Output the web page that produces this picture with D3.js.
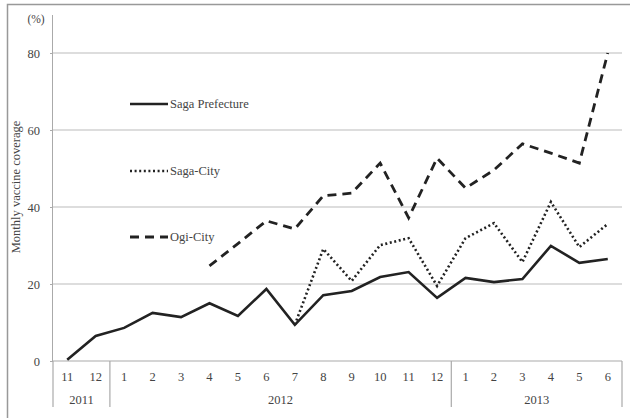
<!DOCTYPE html>
<html><head><meta charset="utf-8">
<script src="https://cdn.jsdelivr.net/npm/d3@7"></script>
<style>body{margin:0;background:#fff}svg{display:block}svg text{font-family:"Liberation Serif","DejaVu Serif",serif !important;fill:#444}</style>
</head><body>
<script>
const months = ["11","12","1","2","3","4","5","6","7","8","9","10","11","12","1","2","3","4","5","6"];
const years = [{label:"2011",from:0,to:1},{label:"2012",from:2,to:13},{label:"2013",from:14,to:19}];
const sagaPref = [0.3,6.5,8.6,12.5,11.4,15,11.7,18.7,9.4,17.1,18.2,21.8,23.1,16.4,21.6,20.5,21.3,29.9,25.5,26.5];
const sagaCity = [null,null,null,null,null,null,null,null,9.4,29.1,20.8,30.1,31.9,19.5,31.9,35.8,25.7,41.3,29.6,35.6];
const ogiCity = [null,null,null,null,null,24.7,30.5,36.4,34.3,42.9,43.6,51.4,37.2,52.7,44.9,49.6,56.4,54,51.4,80];
const yTicks = [0,20,40,60,80];
const seriesNames = ["Saga Prefecture","Saga-City","Ogi-City"];

(function(){
const W=630,H=418;
const svg=d3.select("body").append("svg").attr("width",W).attr("height",H).attr("font-family","Liberation Serif");
svg.append("rect").attr("x",7.5).attr("y",4.5).attr("width",630).attr("height",430).attr("fill","none").attr("stroke","#999").attr("stroke-width",1.5);

const pL=53,pR=622,pT=15,pB=361;
const x=d3.scaleBand().domain(d3.range(months.length)).range([pL,pR]);
const y=d3.scaleLinear().domain([0,90]).range([pB,pB-90*77/20]);

svg.append("g").selectAll("line").data(yTicks.filter(d=>d>0)).join("line")
 .attr("x1",pL).attr("x2",pR).attr("y1",d=>y(d)).attr("y2",d=>y(d))
 .attr("stroke","#bbb").attr("stroke-width",1.2);
const ya=svg.append("g").attr("transform",`translate(${pL},0)`).call(d3.axisLeft(y).tickValues(yTicks).tickSize(3).tickPadding(10));
ya.attr("font-family","Liberation Serif");
ya.select(".domain").attr("d",`M-0.5,${pT}V${pB}`).attr("stroke","#aaa");
ya.selectAll(".tick line").attr("stroke","#aaa");
ya.selectAll(".tick text").attr("font-size",12.5).attr("fill","#444");
svg.append("text").attr("x",36).attr("y",23).attr("text-anchor","middle").attr("font-size",11.5).text("(%)");
svg.append("text").attr("transform","translate(20,187) rotate(-90)").attr("text-anchor","middle").attr("font-size",12.5).text("Monthly vaccine coverage");

const tb=407;
svg.append("line").attr("x1",pL).attr("x2",pR).attr("y1",pB).attr("y2",pB).attr("stroke","#aaa").attr("stroke-width",1.2);
const seps=[pL, x(years[1].from), x(years[2].from), pR];
svg.append("g").selectAll("line").data(seps).join("line")
 .attr("x1",d=>d).attr("x2",d=>d).attr("y1",pB).attr("y2",tb).attr("stroke","#aaa").attr("stroke-width",1.2);
svg.append("g").selectAll("text").data(months).join("text")
 .attr("x",(d,i)=>x(i)+x.bandwidth()/2).attr("y",381).attr("text-anchor","middle").attr("font-size",12.5).text(d=>d);
svg.append("g").selectAll("text").data(years).join("text")
 .attr("x",d=>(x(d.from)+x(d.to)+x.bandwidth())/2).attr("y",404).attr("text-anchor","middle").attr("font-size",12.5).text(d=>d.label);

const line=d3.line().defined(d=>d!=null).x((d,i)=>x(i)+x.bandwidth()/2).y(d=>y(d));
const styles=[{dash:null,w:2.6},{dash:"2,2.6",w:2.6},{dash:"9,6",w:2.8}];
[sagaPref,sagaCity,ogiCity].forEach((s,k)=>{
  svg.append("path").attr("d",line(s)).attr("fill","none").attr("stroke","#222")
   .attr("stroke-width",styles[k].w).attr("stroke-dasharray",styles[k].dash);
});
const ly=[104,171,237];
seriesNames.forEach((n,k)=>{
  svg.append("line").attr("x1",130).attr("x2",168).attr("y1",ly[k]).attr("y2",ly[k]).attr("stroke","#222")
   .attr("stroke-width",styles[k].w).attr("stroke-dasharray",styles[k].dash);
  svg.append("text").attr("x",170).attr("y",ly[k]+4).attr("font-size",12.5).text(n);
});
})();
</script>
</body></html>
